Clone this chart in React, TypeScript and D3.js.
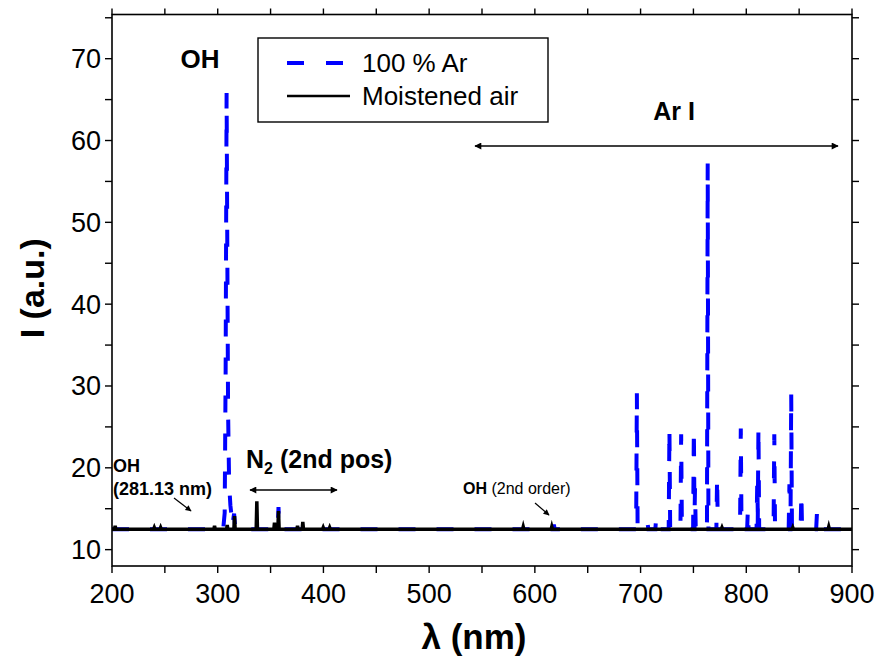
import React from 'react';
import * as d3 from 'd3';

// ---------- data ----------
const xTicks = [200, 300, 400, 500, 600, 700, 800, 900];
const xMinor = [250, 350, 450, 550, 650, 750, 850];
const yTicks = [10, 20, 30, 40, 50, 60, 70];
const yMinor = [15, 25, 35, 45, 55, 65, 75];

// 100 % Ar : baseline, OH band (explicit points) and line peaks
const arBase = 12.5;
const arBandWl = [305.2, 306.6, 307.5, 308.4, 309.1, 309.8, 310.8, 312.0, 313.0, 313.8, 314.6, 315.5, 316.6];
const arBandI = [12.5, 14.5, 32, 65.8, 46, 27, 18, 15.4, 14.2, 15.0, 13.6, 14.4, 12.5];
const arPeakWl = [357.5, 618, 696.5, 706.7, 714.7, 727.3, 738.4, 750.4, 751.5, 763.5, 772.4, 794.8, 801.5, 810.4, 811.5, 826.5, 840.8, 842.5, 852.1, 866.8];
const arPeakI = [15.2, 13.05, 29.1, 13.1, 13.9, 24.8, 24.1, 24.8, 17.5, 57.2, 18.9, 24.8, 14.9, 18.5, 25.0, 24.1, 18.0, 29.1, 16.9, 14.35];

// Moistened air : baseline and small peaks
const airBase = 12.5;
const airPeakWl = [203, 240, 246, 297, 309, 315.9, 337, 353.7, 357.5, 375.5, 380.5, 399.8, 405.9, 589, 616, 777, 844, 878];
const airPeakI = [12.9, 12.7, 12.7, 12.9, 13.0, 14.1, 15.9, 13.3, 14.7, 12.9, 13.4, 12.7, 12.7, 12.8, 12.8, 12.7, 12.7, 12.8];

const seriesNames = ['100 % Ar', 'Moistened air'];

// ---------- layout ----------
const W = 881, H = 658;
const L = 112, R = 852, T = 14.5, B = 566;
const FONT = '"Liberation Sans", Arial, Helvetica, sans-serif';

const x = d3.scaleLinear().domain([200, 900]).range([L, R]);
const y = d3.scaleLinear().domain([8, 75.4]).range([B, T]);

function buildSpectrum(base: number, bandWl: number[], bandI: number[], peakWl: number[], peakI: number[], hw: number) {
  const feats: [number, number][][] = [];
  if (bandWl.length) feats.push(bandWl.map((w, i) => [w, bandI[i]] as [number, number]));
  peakWl.forEach((w, i) => feats.push([[w - hw, base], [w, peakI[i]], [w + hw, base]]));
  feats.sort((a, b) => a[0][0] - b[0][0]);
  const pts: [number, number][] = [[200, base]];
  feats.forEach(f => f.forEach(p => pts.push(p)));
  pts.push([900, base]);
  return pts;
}

const line = d3.line<[number, number]>().x(d => x(d[0])).y(d => y(d[1]));

export default function App() {
  const arPts = buildSpectrum(arBase, arBandWl, arBandI, arPeakWl, arPeakI, 0.7);
  const airPts = buildSpectrum(airBase, [], [], airPeakWl, airPeakI, 0.6);
  const tk = 7;
  const tickFs = 27;
  return (
    <svg width={W} height={H} style={{ position: 'absolute', left: 0, top: 0, background: '#fff' }} fontFamily={FONT}>
      <defs>
        <clipPath id="plot"><rect x={L} y={T} width={R - L} height={B - T} /></clipPath>
        <marker id="ah" viewBox="0 0 10 10" refX="9" refY="5" markerWidth="10" markerHeight="7" markerUnits="userSpaceOnUse" orient="auto-start-reverse">
          <path d="M0,0 L10,5 L0,10 Z" fill="#000" />
        </marker>
        <marker id="ahs" viewBox="0 0 10 10" refX="9" refY="5" markerWidth="8" markerHeight="6" markerUnits="userSpaceOnUse" orient="auto">
          <path d="M0,0 L10,5 L0,10 Z" fill="#000" />
        </marker>
      </defs>
      <rect width={W} height={H} fill="#fff" />
      <g clipPath="url(#plot)">
        <path d={line(arPts) || ''} fill="none" stroke="#0000ff" strokeWidth={4} strokeDasharray="17,21" strokeLinejoin="miter" />
        <path d={line(airPts) || ''} fill="none" stroke="#000" strokeWidth={3.5} strokeLinejoin="miter" />
      </g>
      {/* frame */}
      <rect x={L} y={T} width={R - L} height={B - T} fill="none" stroke="#000" strokeWidth={1.6} />
      {xTicks.concat(xMinor).map(v => (
        <g key={'x' + v}>
          <line x1={x(v)} x2={x(v)} y1={B} y2={B + tk} stroke="#000" strokeWidth={1.4} />
          <line x1={x(v)} x2={x(v)} y1={T} y2={T - tk + 1} stroke="#000" strokeWidth={1.4} />
        </g>
      ))}
      {yTicks.concat(yMinor).map(v => (
        <g key={'y' + v}>
          <line x1={L} x2={L - tk} y1={y(v)} y2={y(v)} stroke="#000" strokeWidth={1.4} />
          <line x1={R} x2={R + tk} y1={y(v)} y2={y(v)} stroke="#000" strokeWidth={1.4} />
        </g>
      ))}
      {xTicks.map(v => (
        <text key={'xl' + v} x={x(v)} y={603} textAnchor="middle" fontSize={tickFs}>{v}</text>
      ))}
      {yTicks.map(v => (
        <text key={'yl' + v} x={L - 11} y={y(v) + 9.5} textAnchor="end" fontSize={tickFs}>{v}</text>
      ))}
      {/* axis titles */}
      <text x={474} y={649} textAnchor="middle" fontSize={35} fontWeight="bold">λ (nm)</text>
      <text transform={`translate(44,${(T + B) / 2 - 2}) rotate(-90)`} textAnchor="middle" fontSize={34} fontWeight="bold">I (a.u.)</text>

      {/* legend */}
      <rect x={258} y={38} width={290} height={84} fill="#fff" stroke="#000" strokeWidth={1.4} />
      <line x1={287} x2={350} y1={63} y2={63} stroke="#0000ff" strokeWidth={4} strokeDasharray="17,22" />
      <line x1={287} x2={350} y1={96} y2={96} stroke="#000" strokeWidth={2.5} />
      <text x={362} y={72} fontSize={26}>{seriesNames[0]}</text>
      <text x={362} y={105} fontSize={26}>{seriesNames[1]}</text>

      {/* annotations */}
      <text x={200} y={68} textAnchor="middle" fontSize={26} fontWeight="bold">OH</text>
      <text x={674} y={120} textAnchor="middle" fontSize={25} fontWeight="bold">Ar I</text>
      <line x1={475} x2={838} y1={146} y2={146} stroke="#000" strokeWidth={1.5} markerStart="url(#ah)" markerEnd="url(#ah)" />

      <text x={246} y={468} fontSize={25} fontWeight="bold">N<tspan fontSize={16} dy={6}>2</tspan><tspan dy={-6}> (2nd pos)</tspan></text>
      <line x1={250} x2={337} y1={490} y2={490} stroke="#000" strokeWidth={1.5} markerStart="url(#ah)" markerEnd="url(#ah)" />

      <text x={113} y={472} fontSize={18} fontWeight="bold">OH</text>
      <text x={113} y={495} fontSize={18} fontWeight="bold">(281.13 nm)</text>
      <line x1={174} x2={191} y1={498} y2={511} stroke="#000" strokeWidth={1.2} markerEnd="url(#ahs)" />

      <text x={463} y={494} fontSize={16}><tspan fontWeight="bold">OH</tspan> (2nd order)</text>
      <line x1={535} x2={549} y1={503} y2={515} stroke="#000" strokeWidth={1.2} markerEnd="url(#ahs)" />
    </svg>
  );
}
